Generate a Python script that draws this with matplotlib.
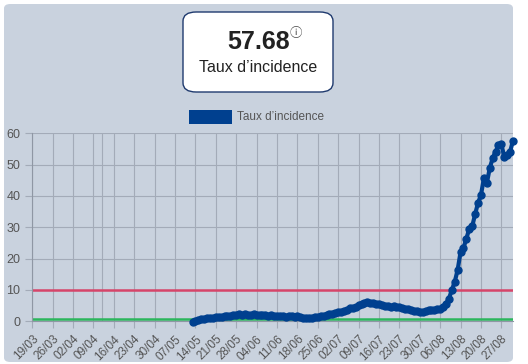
import datetime as dt
import matplotlib
matplotlib.use("Agg")
import matplotlib.pyplot as plt
from matplotlib.patches import FancyBboxPatch

plt.rcParams['font.family'] = ['Liberation Sans', 'DejaVu Sans']

# données
start_date = dt.date(2020, 3, 19)
n_days = 166
first_day = 55   # 13/05
incidence = [
    -0.2, 0.1, 0.4, 0.6, 0.8, 0.9, 1.1, 1.2, 1.3, 1.4,
    1.5, 1.6, 1.7, 1.8, 1.9, 2.1, 2.2, 2.0, 2.2, 2.1,
    2.0, 2.2, 2.1, 2.0, 1.9, 2.0, 1.8, 1.9, 1.7, 1.8,
    1.6, 1.7, 1.5, 1.6, 1.7, 1.5, 1.6, 1.4, 1.2, 1.0,
    0.9, 1.1, 1.3, 1.5, 1.7, 1.8, 2.0, 2.2, 2.3, 2.6,
    2.9, 3.0, 3.3, 3.7, 4.1, 4.3, 4.6, 5.2, 5.6, 5.9,
    6.1, 5.9, 5.8, 5.6, 5.4, 5.3, 5.0, 4.8, 4.7, 4.8,
    4.6, 4.5, 4.3, 4.0, 3.8, 3.6, 3.4, 3.2, 3.0, 3.1,
    3.3, 3.5, 3.6, 3.7, 3.9, 4.0, 4.5, 5.6, 7.2, 10.0,
    12.6, 16.4, 22.1, 23.4, 26.4, 29.6, 30.3, 34.2, 37.8, 40.3,
    45.6, 44.0, 48.8, 52.0, 54.1, 56.2, 56.5, 52.5, 53.0, 54.1,
    57.68,
]
seuil_alerte = 10
seuil_bas = 0.7
derniere_valeur = "57.68"

dates = [start_date + dt.timedelta(days=i) for i in range(n_days)]
labels = [d.strftime("%d/%m") for d in dates]
x = list(range(first_day, first_day + len(incidence)))

bg = '#c9d2de'
bleu = '#00408f'

fig = plt.figure(figsize=(5.28, 3.64), dpi=100)
fig.patch.set_facecolor('white')

# fond arrondi
fond = FancyBboxPatch((4 / 528, 2 / 364), 509 / 528, 358 / 364,
                      boxstyle="round,pad=0,rounding_size=0.012",
                      transform=fig.transFigure, facecolor=bg, edgecolor='none',
                      zorder=-10)
fig.patches.append(fond)

# encadré valeur
carte = FancyBboxPatch((183 / 528, (364 - 92) / 364), 150 / 528, 80 / 364,
                       boxstyle="round,pad=0,rounding_size=0.025",
                       transform=fig.transFigure, facecolor='white',
                       edgecolor='#1f3a6e', linewidth=1)
fig.patches.append(carte)
fig.text(259 / 528, (364 - 42) / 364, derniere_valeur, ha='center', va='center',
         fontsize=18, fontweight='bold', color='#222222')
fig.text(296 / 528, (364 - 34) / 364, "ⓘ", ha='center', va='center',
         fontsize=9, color='#444444', family=['Noto Sans CJK SC', 'DejaVu Sans'])
fig.text(258 / 528, (364 - 67) / 364, "Taux d’incidence", ha='center', va='center',
         fontsize=11.5, color='#222222')

# légende
fig.patches.append(plt.Rectangle((189 / 528, (364 - 124) / 364), 43 / 528, 14 / 364,
                                 transform=fig.transFigure, facecolor=bleu,
                                 edgecolor='none'))
fig.text(237 / 528, (364 - 117) / 364, "Taux d’incidence", ha='left', va='center',
         fontsize=8.5, color='#555555')

ax = fig.add_axes([32.3 / 528, 42.7 / 364, 480.7 / 528, 188 / 364])
ax.set_facecolor('none')

ax.axhline(seuil_alerte, color='#d6456a', linewidth=1.8, zorder=2)
ax.axhline(seuil_bas, color='#2bb65c', linewidth=1.8, zorder=2)
ax.plot(x, incidence, color=bleu, linewidth=3, marker='o', markersize=5,
        zorder=3, clip_on=False)

ax.set_xlim(0, n_days - 1)
ax.set_ylim(0, 60)
ax.set_yticks(range(0, 61, 10))
ticks = list(range(0, n_days - 1, 7))
ax.set_xticks(ticks)
ax.set_xticklabels([labels[i] for i in ticks], rotation=45, ha='right',
                   rotation_mode='anchor')
ax.grid(True, color='#a3abb8', linewidth=0.8)
ax.axvline(24, color='#a3abb8', linewidth=0.8, zorder=0)
ax.tick_params(axis='both', colors='#a3abb8', labelcolor='#555555',
               labelsize=8.5, length=5, width=0.8)
ax.tick_params(axis='y', labelsize=9)
for s in ['top', 'right']:
    ax.spines[s].set_visible(False)
for s in ['left', 'bottom']:
    ax.spines[s].set_color('#8f97a4')
    ax.spines[s].set_linewidth(0.8)

fig.savefig("out.png", dpi=100)
